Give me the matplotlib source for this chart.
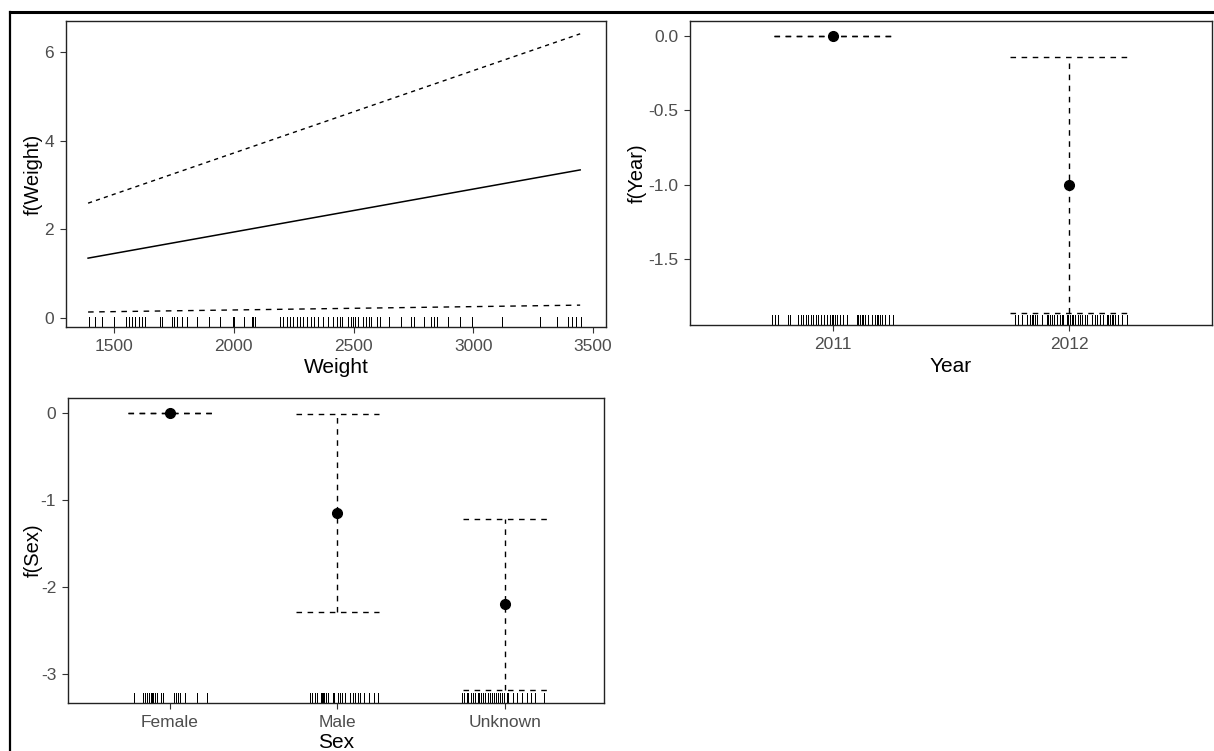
import matplotlib
matplotlib.use('Agg')
import matplotlib.pyplot as plt
from matplotlib.lines import Line2D

plt.rcParams['font.family'] = ['Liberation Sans', 'DejaVu Sans']
plt.rcParams['axes.unicode_minus'] = False

# ---- data ----
weight_range = [1392, 3446]
weight_fit = [1.35, 3.34]
weight_upper = [2.59, 6.41]
weight_lower = [0.135, 0.29]
weight_rug = [1395, 1422, 1450, 1499, 1552, 1561, 1575, 1589, 1603, 1617, 1631,
              1693, 1700, 1742, 1749, 1763, 1784, 1805, 1846, 1895, 1943, 1996,
              2002, 2041, 2075, 2082, 2089, 2193, 2207, 2221, 2235, 2249, 2263,
              2277, 2290, 2307, 2321, 2336, 2353, 2374, 2395, 2415, 2430, 2443,
              2450, 2478, 2488, 2496, 2506, 2520, 2540, 2554, 2565, 2571, 2596,
              2610, 2649, 2698, 2742, 2752, 2793, 2825, 2835, 2849, 2895, 2943,
              2995, 3121, 3280, 3349, 3395, 3413, 3430, 3450]

year_labels = ['2011', '2012']
year_fit = [0.0, -1.0]
year_upper = [0.0, -0.14]
year_lower = [0.0, -1.86]
year_rug = [0.745, 0.757, 0.768, 0.810, 0.821, 0.855, 0.866, 0.876, 0.886, 0.897,
            0.908, 0.918, 0.928, 0.939, 0.951, 0.965, 0.975, 0.989, 0.996, 1.003,
            1.010, 1.017, 1.031, 1.045, 1.059, 1.101, 1.108, 1.115, 1.122, 1.129,
            1.136, 1.150, 1.165, 1.178, 1.186, 1.192, 1.200, 1.207, 1.221, 1.238,
            1.256,
            1.771, 1.785, 1.799, 1.820, 1.834, 1.841, 1.848, 1.855, 1.862, 1.884,
            1.905, 1.911, 1.919, 1.926, 1.933, 1.947, 1.961, 1.968, 1.975, 1.989,
            1.996, 2.003, 2.010, 2.017, 2.024, 2.038, 2.045, 2.052, 2.066, 2.073,
            2.095, 2.108, 2.116, 2.129, 2.143, 2.158, 2.165, 2.172, 2.179, 2.186,
            2.193, 2.207, 2.221, 2.242]

sex_labels = ['Female', 'Male', 'Unknown']
sex_fit = [0.0, -1.15, -2.2]
sex_upper = [0.0, -0.01, -1.22]
sex_lower = [0.0, -2.29, -3.18]
sex_rug = [0.785, 0.837, 0.851, 0.865, 0.876, 0.885, 0.893, 0.900, 0.909, 0.924,
           0.944, 0.960, 1.024, 1.036, 1.050, 1.060, 1.090, 1.159, 1.219,
           1.833, 1.847, 1.863, 1.879, 1.899, 1.906, 1.915, 1.922, 1.930, 1.946,
           1.972, 1.982, 2.002, 2.018, 2.026, 2.042, 2.072, 2.091, 2.106, 2.121,
           2.137, 2.161, 2.191, 2.217, 2.241,
           2.745, 2.757, 2.771, 2.781, 2.797, 2.811, 2.821, 2.837, 2.845, 2.857,
           2.871, 2.881, 2.897, 2.908, 2.920, 2.936, 2.944, 2.956, 2.970, 2.980,
           2.996, 3.010, 3.020, 3.050, 3.070, 3.100, 3.129, 3.155, 3.179, 3.235]

TICK_COLOR = '#4d4d4d'
DASH = (0, (4, 4))


def style_axes(ax):
    for sp in ax.spines.values():
        sp.set_color('#222222')
        sp.set_linewidth(1.0)
    ax.tick_params(direction='out', length=4, width=0.8, color='#333333',
                   labelcolor=TICK_COLOR, labelsize=12.5, pad=4.5)


def add_rug(ax, values):
    # crisp one-pixel black rug marks along the bottom of the panel
    ax.vlines(values, 0, 0.033, transform=ax.get_xaxis_transform(),
              color='black', linewidth=0.72, antialiased=False)


def factor_plot(ax, fit, upper, lower, rug, labels):
    pos = list(range(1, len(labels) + 1))
    for p, f, u, l in zip(pos, fit, upper, lower):
        ax.plot([p - 0.25, p + 0.25], [u, u], color='black', lw=1.0, linestyle=DASH)
        ax.plot([p - 0.25, p + 0.25], [l, l], color='black', lw=1.0, linestyle=DASH)
        ax.plot([p, p], [l, u], color='black', lw=1.0, linestyle=DASH)
    ax.plot(pos, fit, 'o', color='black', markersize=7)
    add_rug(ax, rug)
    ax.set_xticks(pos)
    ax.set_xticklabels(labels)


fig = plt.figure(figsize=(12.14, 7.51), dpi=100)

# Weight
ax1 = fig.add_axes([0.0544, 0.5646, 0.4448, 0.4075])
ax1.plot(weight_range, weight_fit, color='black', lw=1.1)
ax1.plot(weight_range, weight_upper, color='black', lw=1.0, linestyle=(0, (3, 3)))
ax1.plot(weight_range, weight_lower, color='black', lw=1.0, linestyle=DASH)
add_rug(ax1, weight_rug)
ax1.set_xlim(1300, 3554)
ax1.set_ylim(-0.203, 6.70)
ax1.set_xticks([1500, 2000, 2500, 3000, 3500])
ax1.set_yticks([0, 2, 4, 6])
ax1.set_xlabel('Weight', fontsize=15)
ax1.set_ylabel('f(Weight)', fontsize=14.5)
ax1.xaxis.set_label_coords(0.5, -0.100)
ax1.yaxis.set_label_coords(-0.044, 0.5)
style_axes(ax1)

# Year
ax2 = fig.add_axes([0.5684, 0.5672, 0.430, 0.4048])
factor_plot(ax2, year_fit, year_upper, year_lower, year_rug, year_labels)
ax2.set_xlim(0.397, 2.603)
ax2.set_ylim(-1.944, 0.101)
ax2.set_yticks([0.0, -0.5, -1.0, -1.5])
ax2.set_yticklabels(['0.0', '-0.5', '-1.0', '-1.5'])
ax2.set_xlabel('Year', fontsize=15)
ax2.set_ylabel('f(Year)', fontsize=14.5)
ax2.xaxis.set_label_coords(0.5, -0.106)
ax2.yaxis.set_label_coords(-0.083, 0.5)
style_axes(ax2)

# Sex
ax3 = fig.add_axes([0.056, 0.0639, 0.4415, 0.4061])
factor_plot(ax3, sex_fit, sex_upper, sex_lower, sex_rug, sex_labels)
ax3.set_xlim(0.391, 3.591)
ax3.set_ylim(-3.333, 0.172)
ax3.set_yticks([0, -1, -2, -3])
ax3.set_xlabel('Sex', fontsize=15)
ax3.set_ylabel('f(Sex)', fontsize=14.5)
ax3.xaxis.set_label_coords(0.5, -0.098)
ax3.yaxis.set_label_coords(-0.047, 0.5)
style_axes(ax3)

# screenshot frame
fig.add_artist(Line2D([10 / 1214, 1], [1 - 12 / 751, 1 - 12 / 751],
                      transform=fig.transFigure, color='black', lw=2.2))
fig.add_artist(Line2D([10 / 1214, 10 / 1214], [0, 1 - 12 / 751],
                      transform=fig.transFigure, color='black', lw=1.6))

fig.savefig('out.png', dpi=100)
